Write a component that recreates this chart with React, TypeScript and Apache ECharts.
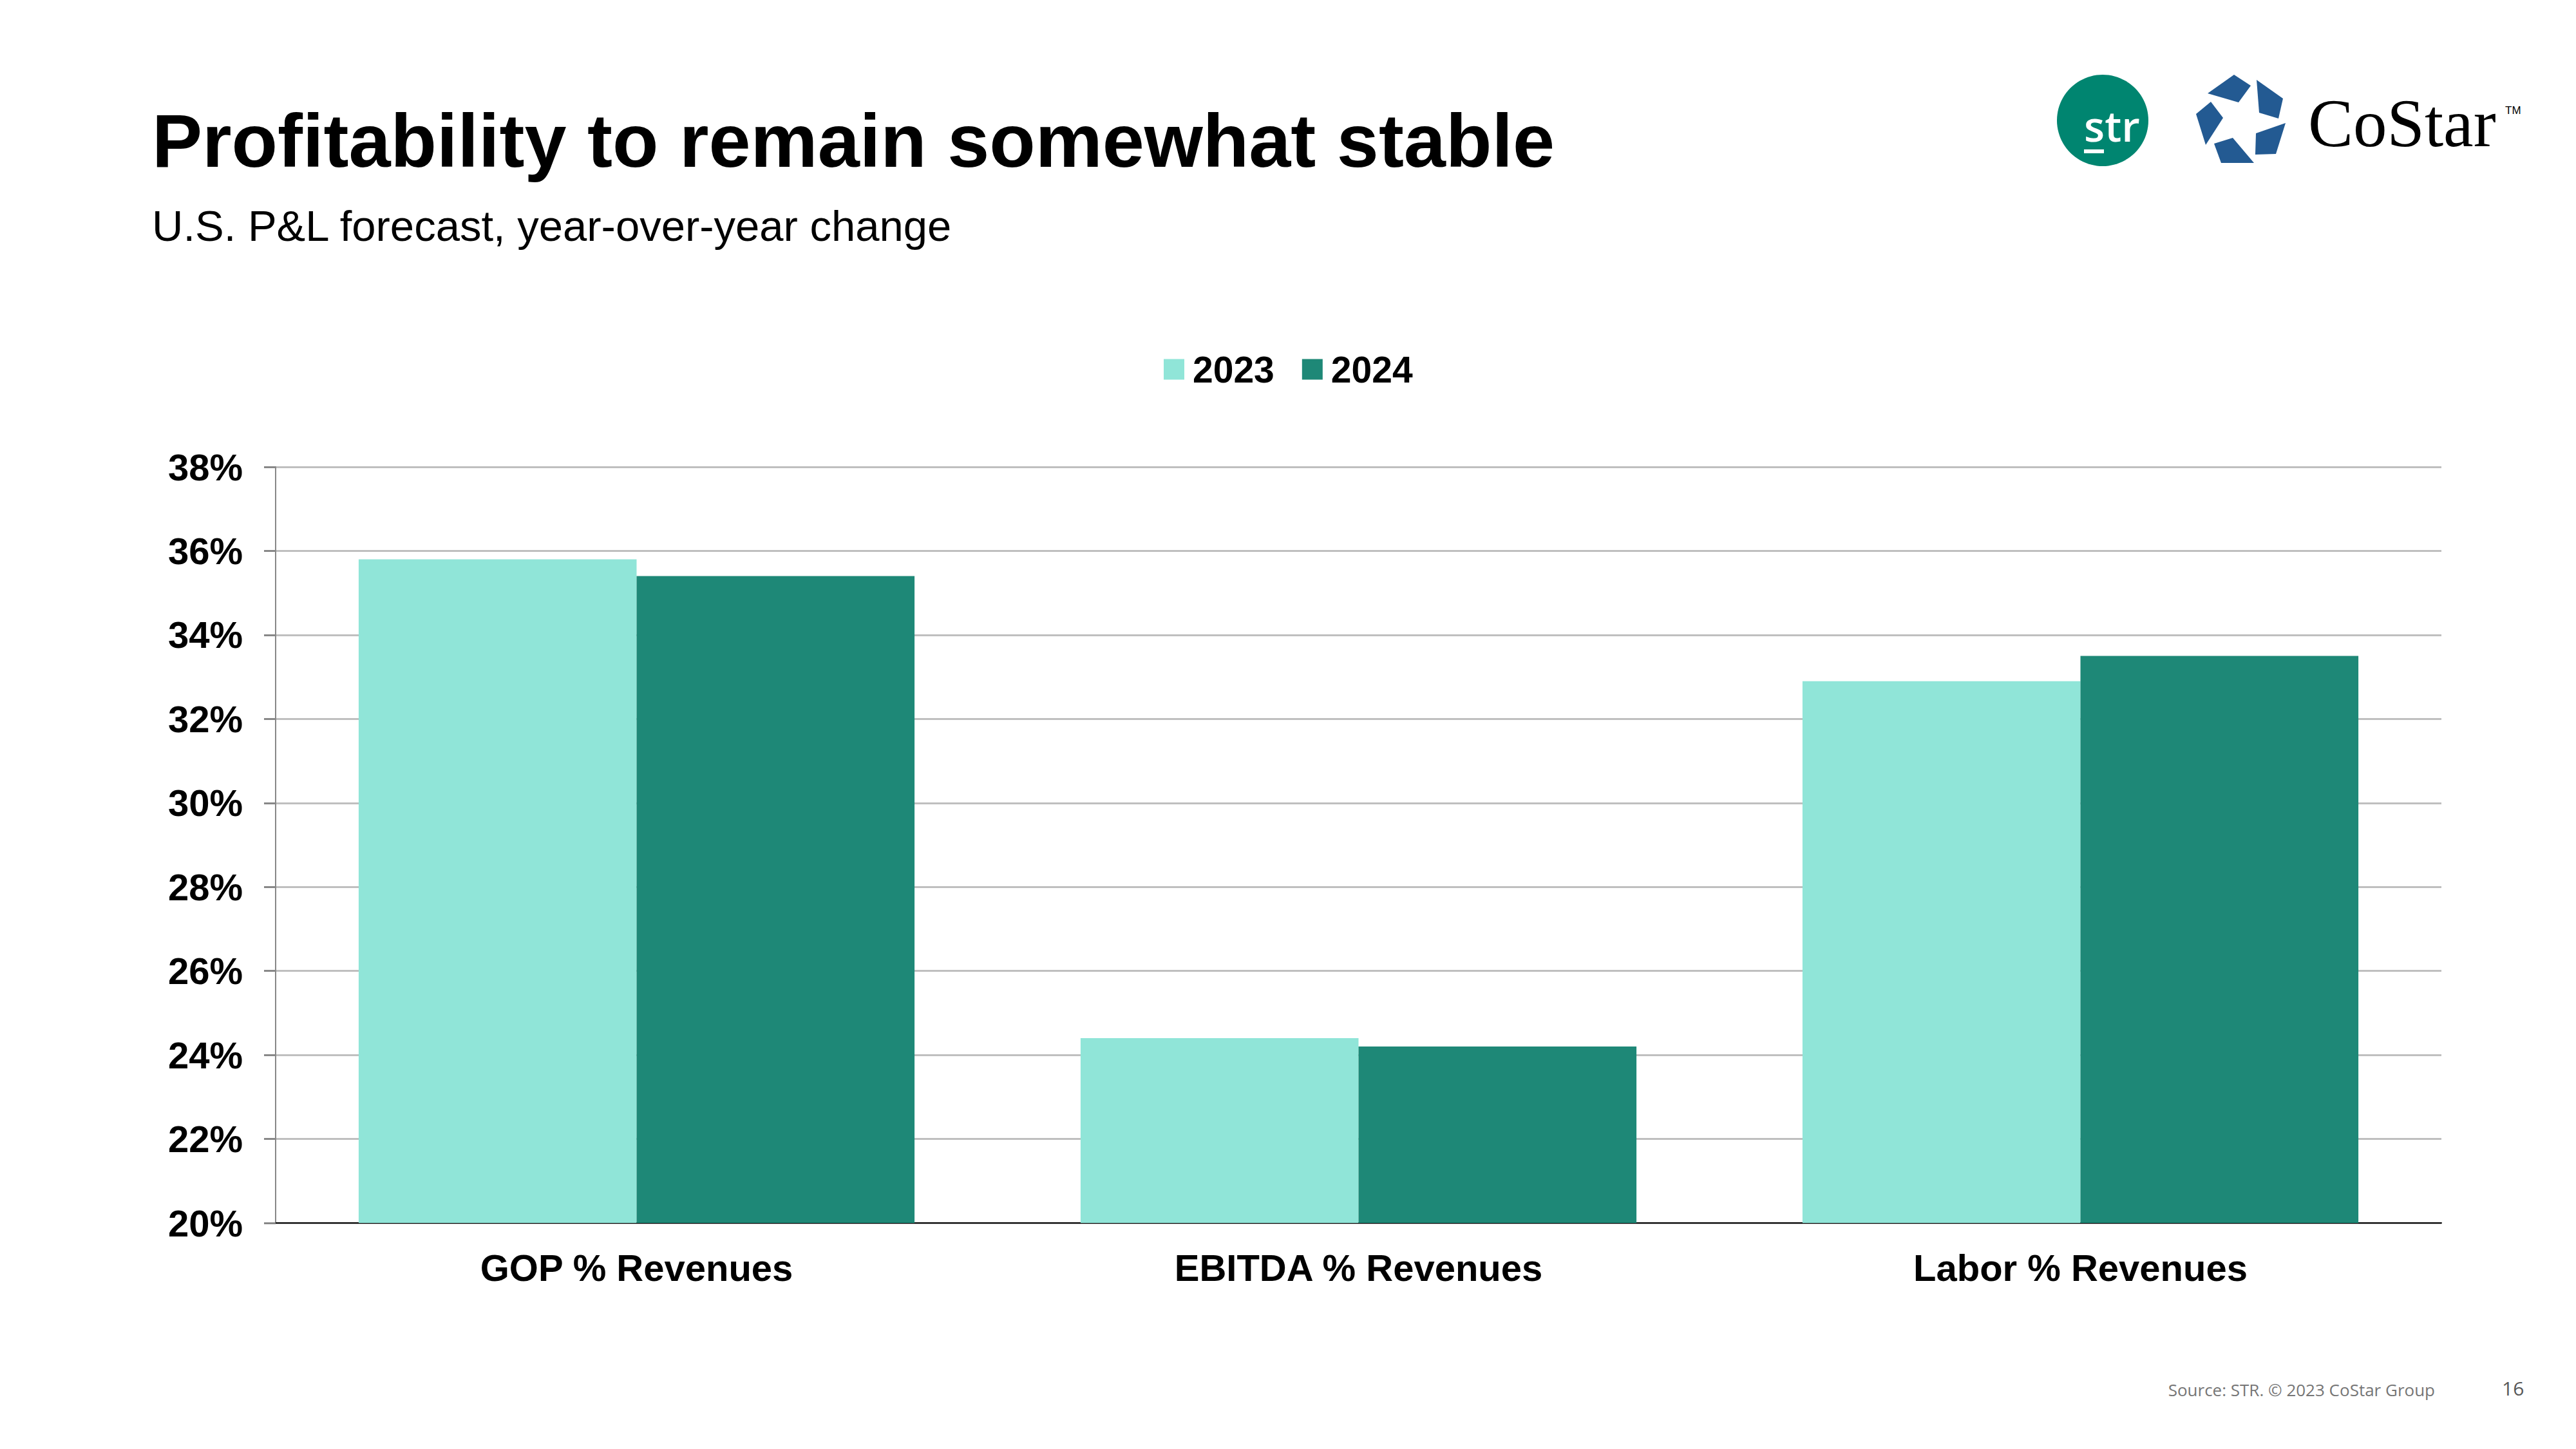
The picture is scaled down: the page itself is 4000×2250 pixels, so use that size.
import React, { useEffect, useRef } from "react";
import * as echarts from "echarts";

const categories = ["GOP % Revenues", "EBITDA % Revenues", "Labor % Revenues"];
const seriesNames = ["2023", "2024"];
const values2023 = [35.8, 24.4, 32.9];
const values2024 = [35.4, 24.2, 33.5];
const yTicks = { min: 20, max: 38, interval: 2 };

const FONT = "'Liberation Sans', Arial, Helvetica, sans-serif";
const COLOR_2023 = "#90E5D8";
const COLOR_2024 = "#1E8877";

const starPieces: number[][][] = [
  [[3428, 145], [3469, 116], [3495, 133], [3476, 159]],
  [[3504, 124], [3545, 153], [3538, 184], [3508, 175]],
  [[3503, 207], [3549, 191], [3534, 239], [3502, 240]],
  [[3438, 223], [3467, 214], [3500, 253], [3449, 253]],
  [[3410, 177], [3433, 158], [3452, 183], [3425, 225]],
];

export default function App() {
  const ref = useRef<HTMLDivElement>(null);
  useEffect(() => {
    if (!ref.current) return;
    const chart = echarts.init(ref.current, null, { renderer: "svg" });
    chart.setOption({
      animation: false,
      backgroundColor: "#ffffff",
      legend: {
        data: seriesNames,
        left: 1802,
        top: 540,
        icon: "rect",
        itemWidth: 32,
        itemHeight: 32,
        itemGap: 43,
        textStyle: {
          fontFamily: FONT,
          fontWeight: "bold",
          fontSize: 57,
          color: "#000000",
          padding: [0, 0, 0, 8],
        },
      },
      grid: { left: 428, right: 209, top: 725, bottom: 351, containLabel: false },
      xAxis: {
        type: "category",
        data: categories,
        axisLine: { show: true, lineStyle: { color: "#000000", width: 2 } },
        axisTick: { show: false },
        axisLabel: {
          fontFamily: FONT,
          fontWeight: "bold",
          fontSize: 58,
          color: "#000000",
          margin: 40,
        },
      },
      yAxis: {
        type: "value",
        min: yTicks.min,
        max: yTicks.max,
        interval: yTicks.interval,
        axisLine: { show: true, lineStyle: { color: "#888888", width: 2 } },
        axisTick: { show: true, length: 18, lineStyle: { color: "#888888", width: 3 } },
        splitLine: { show: true, lineStyle: { color: "#BFBFBF", width: 3 } },
        axisLabel: {
          fontFamily: FONT,
          fontWeight: "bold",
          fontSize: 58,
          color: "#000000",
          margin: 51,
          formatter: "{value}%",
        },
      },
      series: [
        {
          name: seriesNames[0],
          type: "bar",
          data: values2023,
          itemStyle: { color: COLOR_2023 },
          barGap: "0%",
          barCategoryGap: "23%",
        },
        {
          name: seriesNames[1],
          type: "bar",
          data: values2024,
          itemStyle: { color: COLOR_2024 },
          barGap: "0%",
          barCategoryGap: "23%",
        },
      ],
      graphic: [
        {
          type: "text",
          x: 236,
          y: 218,
          style: {
            text: "Profitability to remain somewhat stable",
            fontFamily: FONT,
            fontWeight: "bold",
            fontSize: 117,
            fill: "#000000",
            verticalAlign: "middle",
            align: "left",
          },
        },
        {
          type: "text",
          x: 236,
          y: 350,
          style: {
            text: "U.S. P&L forecast, year-over-year change",
            fontFamily: FONT,
            fontSize: 67,
            fill: "#000000",
            verticalAlign: "middle",
            align: "left",
          },
        },
        {
          type: "circle",
          shape: { cx: 3265, cy: 187, r: 71 },
          style: { fill: "#008570" },
        },
        {
          type: "text",
          x: 3236,
          y: 194,
          style: {
            text: "str",
            fontFamily: "'Open Sans', sans-serif",
            fontWeight: 600,
            fontSize: 66,
            fill: "#ffffff",
            verticalAlign: "middle",
            align: "left",
          },
        },
        {
          type: "rect",
          shape: { x: 3236, y: 232, width: 31, height: 6 },
          style: { fill: "#ffffff" },
        },
        ...starPieces.map((pts) => ({
          type: "polygon",
          shape: { points: pts },
          style: { fill: "#235A92" },
        })),
        {
          type: "text",
          x: 3584,
          y: 191,
          style: {
            text: "CoStar",
            fontFamily: "'Liberation Serif', 'Times New Roman', serif",
            fontSize: 105,
            fill: "#000000",
            verticalAlign: "middle",
            align: "left",
          },
        },
        {
          type: "text",
          x: 3890,
          y: 171,
          style: {
            text: "TM",
            fontFamily: FONT,
            fontSize: 17,
            fill: "#000000",
            verticalAlign: "middle",
            align: "left",
          },
        },
        {
          type: "text",
          x: 3781,
          y: 2158,
          style: {
            text: "Source: STR. © 2023 CoStar Group",
            fontFamily: "'Open Sans', sans-serif",
            fontSize: 26,
            fill: "#767676",
            verticalAlign: "middle",
            align: "right",
          },
        },
        {
          type: "text",
          x: 3885,
          y: 2155,
          style: {
            text: "16",
            fontFamily: "'Open Sans', sans-serif",
            fontSize: 30,
            fill: "#595959",
            verticalAlign: "middle",
            align: "left",
          },
        },
      ],
    });
    return () => chart.dispose();
  }, []);
  return (
    <div
      ref={ref}
      style={{ position: "absolute", left: 0, top: 0, width: 4000, height: 2250 }}
    />
  );
}
